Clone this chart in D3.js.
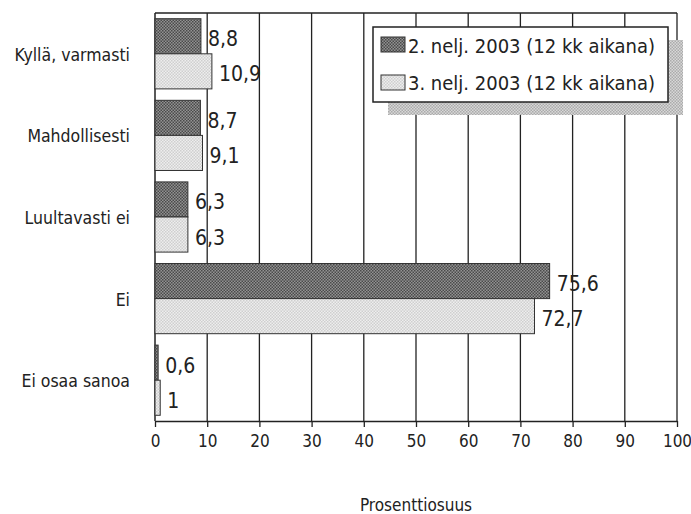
<!DOCTYPE html>
<html>

<head>
    <meta charset="utf-8">
    <title>Prosenttiosuus</title>
    <script type="text/javascript" src="https://cdn.jsdelivr.net/npm/d3@7/dist/d3.min.js"></script>
    <style type="text/css">
        body { margin: 0; background: #fff; }
        text { font-family: "Liberation Sans Narrow", "DejaVu Sans Condensed", sans-serif; fill: #222; }
    </style>
</head>

<body>
    <svg width="691" height="514"></svg>
</body>

<script type="text/javascript">
    let categories = ["Kyllä, varmasti", "Mahdollisesti", "Luultavasti ei", "Ei", "Ei osaa sanoa"];
    let seriesNames = ["2. nelj. 2003 (12 kk aikana)", "3. nelj. 2003 (12 kk aikana)"];
    let q2 = [8.8, 8.7, 6.3, 75.6, 0.6];
    let q3 = [10.9, 9.1, 6.3, 72.7, 1];
    let xTicks = [0, 10, 20, 30, 40, 50, 60, 70, 80, 90, 100];

    let svg = d3.select("svg");
    let plotL = 155, plotR = 677, plotT = 13, plotB = 421;

    // dotted fills like the printed chart
    let defs = svg.append("defs");
    function dots(id, bg, fg) {
        let p = defs.append("pattern").attr("id", id)
            .attr("width", 3).attr("height", 3)
            .attr("patternUnits", "userSpaceOnUse");
        p.append("rect").attr("width", 3).attr("height", 3).attr("fill", bg);
        p.append("rect").attr("width", 1.5).attr("height", 1.5).attr("fill", fg);
        p.append("rect").attr("x", 1.5).attr("y", 1.5).attr("width", 1.5).attr("height", 1.5).attr("fill", fg);
    }
    dots("pDark", "#929292", "#4a4a4a");
    dots("pLight", "#eeeeee", "#cfcfcf");
    dots("pShadow", "#d8d8d8", "#ababab");
    let fills = ["url(#pDark)", "url(#pLight)"];

    let x = d3.scaleLinear().domain([0, 100]).range([plotL, plotR]);
    let y = d3.scaleBand().domain(categories).range([plotT, plotB])
        .paddingInner(0.14).paddingOuter(0.07);
    let ySub = d3.scaleBand().domain([0, 1]).range([0, y.bandwidth()]);

    // grid
    svg.append("g").selectAll("line").data(xTicks.slice(1)).enter().append("line")
        .attr("x1", d => x(d)).attr("x2", d => x(d))
        .attr("y1", plotT).attr("y2", plotB)
        .attr("stroke", "#222").attr("stroke-width", 1.3);
    svg.append("line").attr("x1", plotL).attr("x2", plotR).attr("y1", plotT).attr("y2", plotT)
        .attr("stroke", "#222").attr("stroke-width", 1.3);
    svg.append("line").attr("x1", plotL).attr("x2", plotL).attr("y1", plotT).attr("y2", plotB)
        .attr("stroke", "#222").attr("stroke-width", 1.5);

    // x axis
    let xAxis = svg.append("g").attr("transform", "translate(0," + plotB + ")")
        .call(d3.axisBottom(x).tickValues(xTicks).tickSize(6).tickPadding(8).tickSizeOuter(0));
    xAxis.select(".domain").attr("stroke", "#222").attr("stroke-width", 1.5);
    xAxis.selectAll(".tick line").attr("stroke", "#222").attr("stroke-width", 1.3);
    xAxis.selectAll("text").style("font-size", "17px").attr("fill", "#222")
        .style("font-family", "'Liberation Sans Narrow', 'DejaVu Sans Condensed', sans-serif");

    // bars
    let series = [q2, q3];
    series.forEach(function(vals, s) {
        let g = svg.append("g");
        g.selectAll("rect").data(vals).enter().append("rect")
            .attr("x", x(0))
            .attr("y", (d, i) => y(categories[i]) + ySub(s))
            .attr("width", d => x(d) - x(0))
            .attr("height", ySub.bandwidth())
            .attr("fill", fills[s])
            .attr("stroke", "#333").attr("stroke-width", 1);
        g.selectAll("text").data(vals).enter().append("text")
            .attr("x", d => x(d) + 7)
            .attr("y", (d, i) => y(categories[i]) + ySub(s) + ySub.bandwidth() / 2 + 10)
            .style("font-size", "21px")
            .text(d => String(d).replace(".", ","));
    });

    // category labels
    svg.append("g").selectAll("text").data(categories).enter().append("text")
        .attr("x", 130)
        .attr("y", d => y(d) + y.bandwidth() / 2 + 7)
        .attr("text-anchor", "end")
        .style("font-size", "17.5px")
        .text(d => d);

    // axis title
    svg.append("text").attr("x", 416).attr("y", 511).attr("text-anchor", "middle")
        .style("font-size", "17px").text("Prosenttiosuus");

    // legend with shadow
    let lg = svg.append("g").attr("transform", "translate(373,27)");
    lg.append("rect").attr("x", 15).attr("y", 13).attr("width", 295).attr("height", 75)
        .attr("fill", "url(#pShadow)");
    lg.append("rect").attr("width", 295).attr("height", 75)
        .attr("fill", "#fff").attr("stroke", "#222").attr("stroke-width", 1.5);
    seriesNames.forEach(function(name, s) {
        lg.append("rect").attr("x", 8).attr("y", 10 + s * 38).attr("width", 24).attr("height", 15)
            .attr("fill", fills[s]).attr("stroke", "#333");
        lg.append("text").attr("x", 35).attr("y", 26 + s * 37)
            .style("font-size", "20px").text(name);
    });
</script>

</html>
